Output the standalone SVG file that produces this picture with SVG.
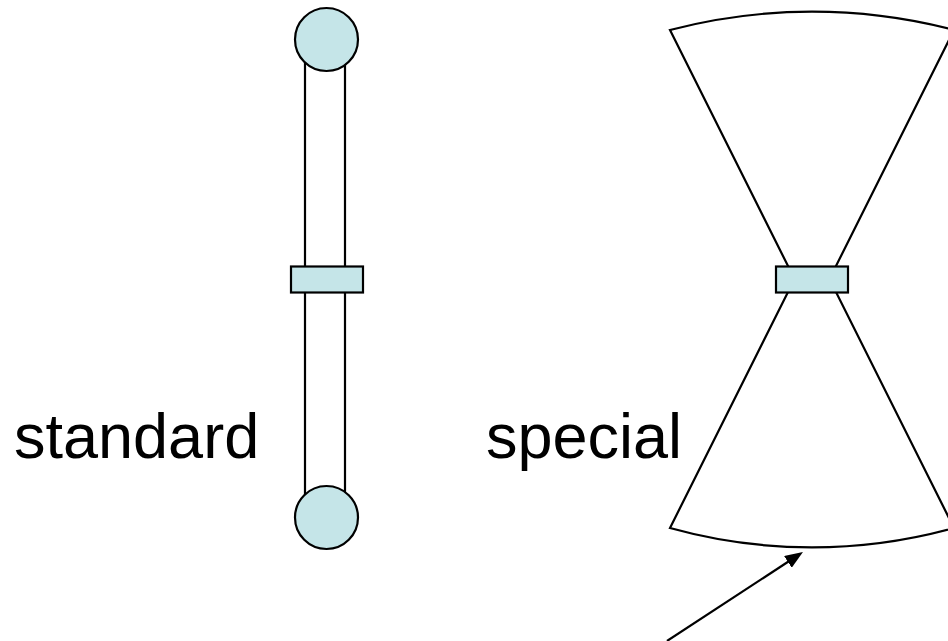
<svg xmlns="http://www.w3.org/2000/svg" width="948" height="641" viewBox="0 0 948 641">
  <style>
    .ln { fill: none; stroke: #000; stroke-width: 2.2; }
    .part { fill: #C5E5E8; stroke: #000; stroke-width: 2.2; }
    .lbl { font-family: "Liberation Sans", Arial, sans-serif; font-size: 63px; fill: #000; }
  </style>
  <defs>
    <marker id="head" markerUnits="userSpaceOnUse" markerWidth="18" markerHeight="14" viewBox="0 0 18 14" refX="8" refY="7" orient="auto">
      <path d="M0,0 L18,7 L0,14 z" fill="#000"/>
    </marker>
  </defs>
  <rect width="948" height="641" fill="#fff"/>

  <!-- standard: two rods between end balls, with a centre clamp -->
  <g id="standard">
    <line class="ln" x1="305" y1="40" x2="305" y2="517"/>
    <line class="ln" x1="345" y1="40" x2="345" y2="517"/>
    <circle class="part" cx="326.5" cy="39.5" r="31.5"/>
    <circle class="part" cx="326.5" cy="517.5" r="31.5"/>
    <rect class="part" x="291" y="266.5" width="72" height="26"/>
  </g>
  <text class="lbl" x="14" y="458">standard</text>

  <!-- special: two fan wedges meeting at the centre clamp -->
  <g id="special">
    <path class="ln" d="M670,30 A560,560 0 0 1 954,30 L829.5,279 L794.5,279 Z"/>
    <path class="ln" d="M670,528 A530,530 0 0 0 954,528 L829.5,279 L794.5,279 Z"/>
    <rect class="part" x="776" y="266.5" width="72" height="26"/>
  </g>
  <text class="lbl" x="486" y="458">special</text>

  <g id="connectors">
    <line class="ln" x1="667" y1="641" x2="794.6" y2="557.5" marker-end="url(#head)"/>
  </g>
</svg>
